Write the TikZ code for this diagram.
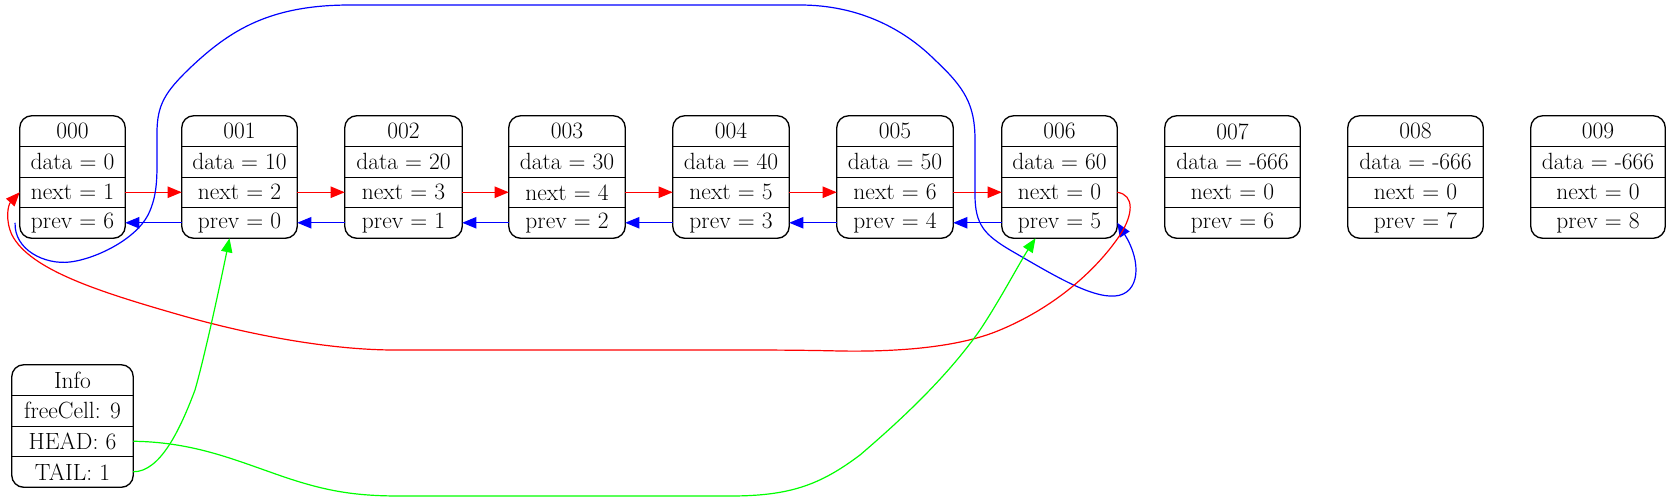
\documentclass[tikz,border=0pt]{standalone}
\usepackage{fontspec}
\usetikzlibrary{arrows.meta}
\definecolor{gvred}{RGB}{255,0,0}
\definecolor{gvblue}{RGB}{0,0,255}
\definecolor{gvgreen}{RGB}{0,255,0}
\tikzset{
  cell/.style={inner sep=0pt, minimum height=22.875pt, font=\fontsize{17.6}{20}\selectfont},
  recbox/.style={line width=1pt, rounded corners=9pt},
  recline/.style={line width=1pt},
  edge/.style={line width=0.9pt, -{Triangle[length=10.5pt,width=8.5pt]}},
  nextedge/.style={edge, gvred},
  prevedge/.style={edge, gvblue},
  infoedge/.style={edge, gvgreen}
}
\newcommand\recnode[8]{%
  \pgfmathsetmacro\rx{(#2+#3)/2}%
  \pgfmathsetmacro\rw{(#3-#2)*0.75}%
  \pgfmathsetmacro\ya{#4+15.25}%
  \pgfmathsetmacro\yb{#4+45.75}%
  \pgfmathsetmacro\yc{#4+76.25}%
  \pgfmathsetmacro\yd{#4+106.75}%
  \node[cell,minimum width=\rw pt] (#1h) at (\rx,\ya) {#5};
  \node[cell,minimum width=\rw pt] (#1d) at (\rx,\yb) {#6};
  \node[cell,minimum width=\rw pt] (#1n) at (\rx,\yc) {#7};
  \node[cell,minimum width=\rw pt] (#1p) at (\rx,\yd) {#8};
  \draw[recbox] (#1h.north west) rectangle (#1p.south east);
  \draw[recline] (#1h.south west) -- (#1h.south east)
                 (#1d.south west) -- (#1d.south east)
                 (#1n.south west) -- (#1n.south east);
}
\begin{document}
\begin{tikzpicture}[x=0.75pt,y=-0.75pt]
\useasboundingbox (0,0) rectangle (1671,501);
\recnode{n0}{20}{125}{116}{000}{data = 0}{next = 1}{prev = 6}
\recnode{n1}{182}{297}{116}{001}{data = 10}{next = 2}{prev = 0}
\recnode{n2}{345}{462}{116}{002}{data = 20}{next = 3}{prev = 1}
\recnode{n3}{509}{625}{116}{003}{data = 30}{next = 4}{prev = 2}
\recnode{n4}{673}{789}{116}{004}{data = 40}{next = 5}{prev = 3}
\recnode{n5}{837}{953}{116}{005}{data = 50}{next = 6}{prev = 4}
\recnode{n6}{1002}{1117}{116}{006}{data = 60}{next = 0}{prev = 5}
\recnode{n7}{1165}{1300}{116}{007}{data = -666}{next = 0}{prev = 6}
\recnode{n8}{1348}{1483}{116}{008}{data = -666}{next = 0}{prev = 7}
\recnode{n9}{1531}{1665}{116}{009}{data = -666}{next = 0}{prev = 8}
\recnode{info}{12}{133}{365}{Info}{freeCell: 9}{HEAD: 6}{TAIL: 1}
% next pointers
\draw[nextedge] (n0n.east) -- (n1n.west);
\draw[nextedge] (n1n.east) -- (n2n.west);
\draw[nextedge] (n2n.east) -- (n3n.west);
\draw[nextedge] (n3n.east) -- (n4n.west);
\draw[nextedge] (n4n.east) -- (n5n.west);
\draw[nextedge] (n5n.east) -- (n6n.west);
% prev pointers
\draw[prevedge] (n1p.west) -- (n0p.east);
\draw[prevedge] (n2p.west) -- (n1p.east);
\draw[prevedge] (n3p.west) -- (n2p.east);
\draw[prevedge] (n4p.west) -- (n3p.east);
\draw[prevedge] (n5p.west) -- (n4p.east);
\draw[prevedge] (n6p.west) -- (n5p.east);
% 000 prev -> 006
\draw[prevedge] ([xshift=-3.5pt]n0p.west) .. controls (14,250) and (45,265) .. (70,262)
  .. controls (95,259) and (135,240) .. (148,215)
  .. controls (158,195) and (157,175) .. (157,150) -- (157,133)
  .. controls (157,105) and (165,92) .. (190,68)
  .. controls (230,30) and (270,5) .. (350,5) -- (800,5)
  .. controls (860,5) and (905,30) .. (935,60)
  .. controls (965,88) and (975,105) .. (975,140) -- (975,195)
  .. controls (975,225) and (985,235) .. (1010,250)
  .. controls (1050,273) and (1090,298) .. (1115,296)
  .. controls (1140,294) and (1142,262) .. (n6p.east);
% 006 next -> 000
\draw[nextedge] (n6n.east) .. controls (1135,195) and (1133,215) .. (1120,235)
  .. controls (1100,265) and (1060,305) .. (1000,330)
  .. controls (960,347) and (900,352) .. (840,351)
  .. controls (800,350) and (760,350) .. (740,350) -- (395,350)
  .. controls (330,350) and (250,335) .. (180,315)
  .. controls (100,292) and (30,270) .. (12,235)
  .. controls (5,220) and (8,205) .. (n0n.west);
% Info pointers
\draw[infoedge] (infop.east) .. controls (160,472) and (180,430) .. (195,390)
  .. controls (205,355) and (220,285) .. ([xshift=-7.5pt]n1p.south);
\draw[infoedge] (infon.east) .. controls (190,442) and (230,458) .. (270,472)
  .. controls (320,490) and (350,496) .. (400,496) -- (730,496)
  .. controls (790,496) and (820,485) .. (860,455)
  .. controls (895,425) and (945,380) .. (980,330)
  .. controls (1000,300) and (1020,262) .. ([xshift=-18pt]n6p.south);
\end{tikzpicture}
\end{document}
